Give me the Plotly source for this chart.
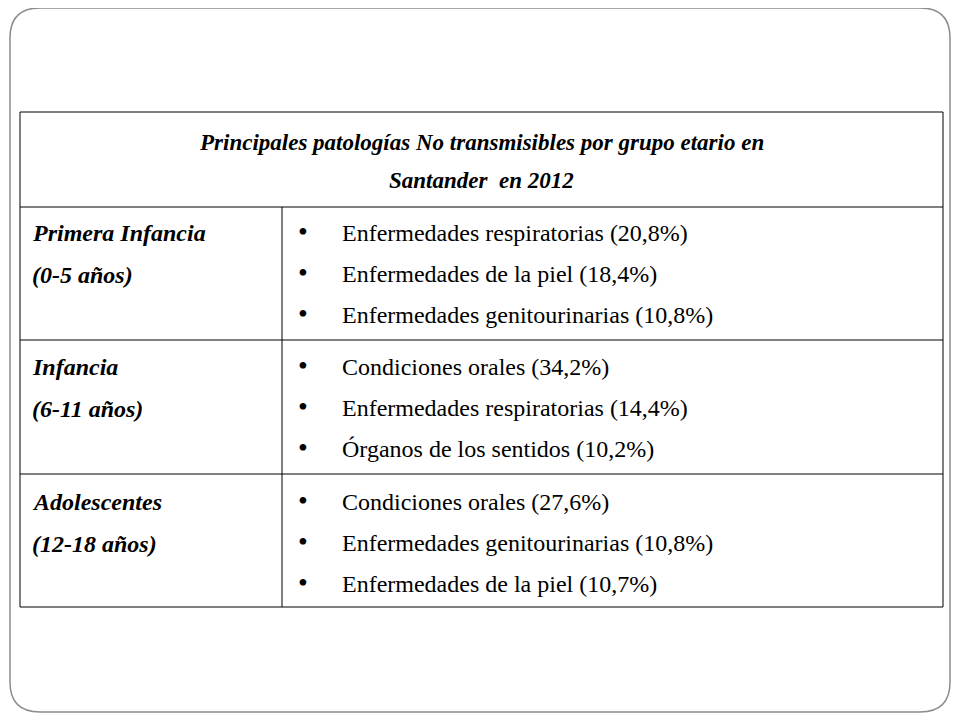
import plotly.graph_objects as go

title_lines = ["Principales patologías No transmisibles por grupo etario en", "Santander  en 2012"]
groups = [["Primera Infancia", "(0-5 años)"], ["Infancia", "(6-11 años)"], ["Adolescentes", "(12-18 años)"]]
items = [
    ["Enfermedades respiratorias (20,8%)", "Enfermedades de la piel (18,4%)", "Enfermedades genitourinarias (10,8%)"],
    ["Condiciones orales (34,2%)", "Enfermedades respiratorias (14,4%)", "Órganos de los sentidos (10,2%)"],
    ["Condiciones orales (27,6%)", "Enfermedades genitourinarias (10,8%)", "Enfermedades de la piel (10,7%)"],
]

FONT = "Liberation Serif"
fig = go.Figure()
shapes = [
    dict(type="path", path="M 40 8 L 920 8 Q 950 8 950 38 L 950 682 Q 950 712 920 712 L 40 712 Q 10 712 10 682 L 10 38 Q 10 8 40 8 Z",
         line=dict(color="#8c8c8c", width=1.5)),
    dict(type="rect", x0=20, x1=943, y0=112, y1=607, line=dict(color="black", width=1)),
    dict(type="line", x0=20, x1=943, y0=207, y1=207, line=dict(color="black", width=1)),
    dict(type="line", x0=20, x1=943, y0=340, y1=340, line=dict(color="black", width=1)),
    dict(type="line", x0=20, x1=943, y0=474, y1=474, line=dict(color="black", width=1)),
    dict(type="line", x0=282, x1=282, y0=207, y1=607, line=dict(color="black", width=1)),
]
ann = []
for i, t in enumerate(title_lines):
    ann.append(dict(x=481, y=142 + 38 * i, text="<b><i>" + t + "</i></b>", xanchor="center",
                    font=dict(family=FONT, size=23, color="black")))
row_top = [233, 367, 502]
for r in range(3):
    for j, g in enumerate(groups[r]):
        ann.append(dict(x=30, y=row_top[r] + 42 * j, text="<b><i>" + g + "</i></b>", xanchor="left",
                        font=dict(family=FONT, size=24, color="black")))
    for j, it in enumerate(items[r]):
        y = row_top[r] + 41 * j
        ann.append(dict(x=296, y=y - 2, text="•", xanchor="left", font=dict(family=FONT, size=28, color="black")))
        ann.append(dict(x=340, y=y, text=it, xanchor="left", font=dict(family=FONT, size=24, color="black")))
for a in ann:
    a.update(xref="x", yref="y", showarrow=False, yanchor="middle")

# page body has an 8px margin; shift the axis ranges to compensate
fig.update_layout(width=960, height=720, margin=dict(l=0, r=0, t=0, b=0),
                  plot_bgcolor="white", paper_bgcolor="white", shapes=shapes, annotations=ann,
                  xaxis=dict(range=[8, 968], visible=False), yaxis=dict(range=[728, 8], visible=False))
fig.write_html("out.html")
